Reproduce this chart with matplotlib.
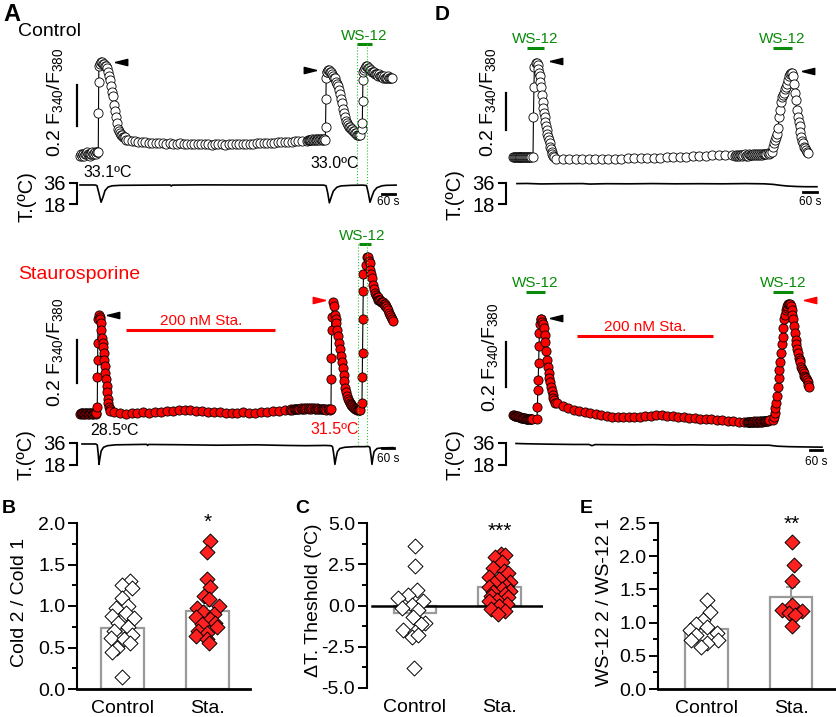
import numpy as np
import matplotlib
matplotlib.use("Agg")
import matplotlib.pyplot as plt
from matplotlib.lines import Line2D
from matplotlib.ticker import MultipleLocator

W, H = 837, 717
plt.rcParams['font.family'] = ['Liberation Sans', 'DejaVu Sans']
plt.rcParams['mathtext.default'] = 'regular'
plt.rcParams['axes.unicode_minus'] = False

# ---- F340/F380 traces: (start s, step s, ratio values) ----
a_ctrl_segs = [
    (0, 4, [0.02, 0.03, 0.02, 0.03, 0.03, 0.02, 0.03, 0.03, 0.04, 0.03, 0.03, 0.02, 0.03, 0.03,
            0.04, 0.03, 0.03, 0.04, 0.03, 0.04, 0.04]),
    (84, 1, [0.04, 0.23, 0.38, 0.46]),
    (92, 4.6, [0.47, 0.48, 0.48, 0.47, 0.47, 0.46, 0.46, 0.45, 0.43, 0.41, 0.39, 0.36, 0.33, 0.31,
               0.27, 0.24, 0.21, 0.18, 0.15, 0.14, 0.13, 0.12, 0.12, 0.11, 0.11, 0.11, 0.10]),
    (221, 16, [0.100, 0.095, 0.092, 0.090, 0.088, 0.086, 0.085, 0.084, 0.082, 0.083,
               0.081, 0.080, 0.082, 0.080, 0.079, 0.081, 0.078, 0.080, 0.077, 0.079,
               0.078, 0.076, 0.078, 0.077, 0.075, 0.078, 0.076, 0.077, 0.075, 0.077,
               0.076, 0.078, 0.077, 0.079, 0.078, 0.080, 0.079, 0.081, 0.082, 0.083,
               0.082, 0.085, 0.084, 0.086, 0.087, 0.089, 0.088, 0.090, 0.092, 0.093, 0.095]),
    (1044, 4, [0.095, 0.098, 0.096, 0.100, 0.097, 0.099, 0.101, 0.098, 0.100, 0.102, 0.099,
               0.101, 0.100, 0.103, 0.100, 0.102, 0.101, 0.099, 0.102, 0.100, 0.101]),
    (1128, 1.5, [0.10, 0.16, 0.30, 0.40, 0.43]),
    (1136, 4.6, [0.43, 0.44, 0.44, 0.43, 0.43, 0.42, 0.41, 0.40, 0.40, 0.38, 0.37, 0.36, 0.34, 0.32,
                 0.30, 0.28, 0.25, 0.23, 0.21, 0.19, 0.18, 0.17, 0.16, 0.16, 0.15, 0.15, 0.14, 0.14,
                 0.13, 0.13, 0.12, 0.12, 0.12, 0.12]),
    (1297, 1.5, [0.15, 0.18, 0.29, 0.39, 0.43]),
    (1306, 4.6, [0.44, 0.45, 0.46, 0.46, 0.45, 0.45, 0.44, 0.44, 0.43, 0.43, 0.43, 0.42, 0.42, 0.42,
                 0.41, 0.42, 0.41, 0.41, 0.41, 0.40, 0.41, 0.40, 0.40, 0.40, 0.41, 0.40, 0.40, 0.40, 0.40]),
]

a_sta_segs = [
    (0, 4, [0.030, 0.032, 0.028, 0.031, 0.033, 0.029, 0.031, 0.030, 0.034, 0.031, 0.029,
            0.032, 0.030, 0.033, 0.031, 0.030, 0.032, 0.029, 0.031, 0.033, 0.030, 0.032]),
    (88, 1, [0.06, 0.20, 0.28, 0.36, 0.47]),
    (97, 3, [0.49, 0.48, 0.47, 0.45, 0.42, 0.38, 0.36, 0.34, 0.31, 0.28, 0.25, 0.22, 0.19, 0.16,
             0.13, 0.10, 0.08, 0.06, 0.05, 0.04]),
    (173, 30, [0.035, 0.032, 0.030, 0.034, 0.031, 0.035, 0.034, 0.038, 0.036, 0.040,
               0.044, 0.046, 0.048, 0.047, 0.044, 0.041, 0.039, 0.036, 0.035, 0.034,
               0.032, 0.034, 0.035, 0.031, 0.034, 0.036, 0.038, 0.040, 0.043, 0.046]),
    (1071, 6, [0.047, 0.050, 0.048, 0.052, 0.049, 0.051, 0.053, 0.050, 0.052, 0.054, 0.051, 0.053,
               0.055, 0.052, 0.054, 0.056, 0.053, 0.055, 0.052, 0.054, 0.056, 0.053, 0.051, 0.054,
               0.052, 0.050, 0.053, 0.051, 0.049, 0.052, 0.050, 0.048, 0.051, 0.049, 0.047]),
    (1280, 1, [0.05, 0.19, 0.29, 0.42, 0.48]),
    (1290, 4.5, [0.55, 0.53, 0.49, 0.47, 0.45, 0.42, 0.39, 0.36, 0.33, 0.30, 0.27, 0.24, 0.21, 0.18,
                 0.15, 0.13, 0.11, 0.10, 0.09, 0.08, 0.075, 0.07, 0.065, 0.06, 0.055, 0.05, 0.05,
                 0.048, 0.047, 0.046, 0.046, 0.047]),
    (1438, 1.5, [0.08, 0.20, 0.31, 0.47, 0.60, 0.68]),
    (1459, 4.5, [0.72, 0.76, 0.76, 0.74, 0.73, 0.70, 0.68, 0.66, 0.63, 0.61, 0.59, 0.58, 0.57, 0.57,
                 0.56, 0.56, 0.56, 0.55, 0.55, 0.55, 0.54, 0.54, 0.53, 0.53, 0.52, 0.51, 0.50, 0.49,
                 0.48, 0.47, 0.46]),
]

d_ctrl_segs = [
    (0, 4, [0.042, 0.044, 0.041, 0.043, 0.045, 0.042, 0.044, 0.043, 0.041, 0.044,
            0.042, 0.043, 0.045, 0.042, 0.044, 0.043, 0.041, 0.043, 0.042, 0.044]),
    (86, 2, [0.043, 0.26, 0.42, 0.53]),
    (100, 3, [0.55, 0.55, 0.54, 0.52, 0.50, 0.48, 0.45, 0.42, 0.38, 0.34, 0.31, 0.28, 0.26, 0.23,
              0.21, 0.19, 0.17, 0.15, 0.135, 0.12, 0.10, 0.085, 0.07, 0.06, 0.05, 0.045]),
    (185, 28, [0.035, 0.033, 0.032, 0.032, 0.030, 0.030, 0.032, 0.032, 0.033, 0.035,
               0.035, 0.037, 0.037, 0.038, 0.040, 0.040, 0.040, 0.042, 0.042, 0.045,
               0.045, 0.048, 0.050, 0.050, 0.052, 0.052, 0.055, 0.055]),
    (955, 4.5, [0.050, 0.053, 0.048, 0.055, 0.051, 0.056, 0.052, 0.049, 0.054, 0.057, 0.051, 0.055,
                0.050, 0.058, 0.053, 0.056, 0.052, 0.059, 0.054, 0.057, 0.053, 0.060, 0.055, 0.058,
                0.054, 0.061, 0.056, 0.059, 0.057, 0.062, 0.058, 0.063, 0.060, 0.065]),
    (1114, 4.3, [0.07, 0.10, 0.12, 0.135, 0.15, 0.17, 0.20, 0.26, 0.30, 0.34, 0.37, 0.38, 0.39, 0.41,
                 0.42, 0.44, 0.46, 0.48, 0.49, 0.50, 0.50]),
    (1204, 4, [0.48, 0.44, 0.39, 0.35, 0.30, 0.26, 0.23, 0.21, 0.18, 0.15, 0.13, 0.12, 0.10, 0.09,
               0.08, 0.07, 0.065]),
]

d_sta_segs = [
    (0, 4, [0.045, 0.044, 0.042, 0.041, 0.040, 0.038, 0.038, 0.036, 0.035, 0.034, 0.033, 0.032,
            0.031, 0.030, 0.030, 0.029, 0.028, 0.028, 0.027, 0.027, 0.026, 0.026, 0.025, 0.025, 0.026]),
    (120, 2, [0.027, 0.08, 0.155, 0.20, 0.275, 0.35, 0.41, 0.45]),
    (138, 4, [0.47, 0.47, 0.46, 0.45, 0.43, 0.40, 0.37, 0.33, 0.29, 0.26, 0.23, 0.21, 0.19, 0.17,
              0.15, 0.135, 0.12, 0.11, 0.10]),
    (220, 27.5, [0.098, 0.085, 0.075, 0.068, 0.062, 0.057, 0.052, 0.048, 0.044, 0.040, 0.037, 0.035,
                 0.034, 0.034, 0.035, 0.037, 0.040, 0.042, 0.044, 0.043, 0.041, 0.038, 0.036, 0.034,
                 0.032, 0.030, 0.028, 0.027, 0.025, 0.023, 0.021, 0.019, 0.017, 0.015, 0.014]),
    (1170, 4, [0.014, 0.013, 0.015, 0.012, 0.014, 0.013, 0.015, 0.012, 0.014, 0.016, 0.013, 0.015,
               0.014, 0.016, 0.013, 0.015, 0.017, 0.014, 0.016, 0.015, 0.017, 0.016, 0.018, 0.017,
               0.019, 0.018, 0.020, 0.021, 0.022]),
    (1300, 4, [0.022, 0.035, 0.053, 0.075, 0.098, 0.13, 0.17, 0.21, 0.245, 0.28, 0.32, 0.36, 0.39,
               0.43, 0.47, 0.49, 0.51, 0.52, 0.53, 0.54, 0.54]),
    (1385, 4, [0.54, 0.53, 0.51, 0.49, 0.47, 0.44, 0.41, 0.38, 0.36, 0.34, 0.32, 0.30, 0.29, 0.28,
               0.26, 0.25, 0.24, 0.23, 0.22, 0.215, 0.21, 0.20, 0.19, 0.18, 0.17]),
]

# ---- bath temperature (s, degC) ----
a_ctrl_temp_t = [0, 69, 78, 88, 97, 106, 115, 129, 148, 185, 323, 415, 420, 425, 554, 785, 1015, 1121,
                 1132, 1140, 1147, 1155, 1165, 1181, 1200, 1246, 1301, 1318, 1326, 1334, 1342, 1352,
                 1366, 1389, 1408, 1454]
a_ctrl_temp = [34.3, 34.3, 33.8, 26.5, 19.5, 24.0, 29.5, 32.5, 33.6, 34.0, 34.2, 34.3, 33.4, 34.2,
               34.4, 34.3, 34.3, 34.2, 33.6, 27.0, 19.0, 23.5, 29.0, 32.3, 33.5, 34.0, 34.2, 33.8,
               27.5, 19.5, 24.0, 29.0, 32.0, 33.6, 34.0, 34.2]
a_sta_temp_t = [10, 80, 88, 93, 97, 102, 108, 120, 140, 180, 300, 340, 345, 350, 500, 700, 900, 1050,
                1150, 1250, 1280, 1288, 1294, 1300, 1306, 1313, 1325, 1350, 1400, 1450, 1470, 1478,
                1484, 1489, 1494, 1500, 1515, 1540, 1596]
a_sta_temp = [35.2, 35.2, 34.5, 27, 18.5, 24, 29.5, 32.5, 33.8, 34.5, 34.8, 34.9, 34.0, 34.8, 34.6,
              34.2, 34.5, 34.0, 33.8, 34.0, 33.8, 33.0, 27, 18.5, 24, 29, 31.5, 32.5, 33.0, 33.0,
              33.2, 32.5, 26, 18.5, 24, 29, 31.5, 32, 32.2]
d_ctrl_temp_t = [17, 60, 120, 200, 300, 330, 400, 500, 600, 700, 800, 900, 1000, 1080, 1120, 1150,
                 1180, 1220, 1260, 1307]
d_ctrl_temp = [35.5, 35.6, 35.2, 35.4, 35.5, 35.1, 35.4, 35.3, 35.5, 35.3, 35.4, 35.3, 35.5, 35.3,
               34.8, 34.0, 33.4, 33.0, 32.8, 32.8]
d_sta_temp_t = [15, 60, 120, 200, 300, 380, 395, 410, 500, 600, 700, 800, 900, 1000, 1100, 1200,
                1280, 1320, 1380, 1450, 1545]
d_sta_temp = [35.6, 35.4, 35.2, 35.0, 34.8, 34.8, 33.8, 34.7, 34.6, 34.5, 34.6, 34.4, 34.5, 34.3,
              34.4, 34.2, 34.2, 33.4, 33.0, 32.8, 32.6]

# ---- summary data ----
groups = ['Control', 'Sta.']
b_means, b_sems = [0.74, 0.94], [0.07, 0.06]
b_ctrl = [1.30, 1.25, 1.22, 1.10, 1.00, 0.98, 0.92, 0.88, 0.85, 0.80, 0.75, 0.70, 0.65, 0.62,
          0.60, 0.55, 0.50, 0.45, 0.14]
b_ctrl_dx = [0.09, -0.01, 0.11, 0.0, 0.07, -0.08, 0.04, -0.12, 0.13, -0.05, 0.06, -0.10, 0.11,
             -0.13, 0.02, 0.09, -0.07, -0.12, -0.01]
b_sta = [1.78, 1.65, 1.32, 1.23, 1.12, 1.08, 1.00, 0.97, 0.93, 0.90, 0.87, 0.84, 0.80, 0.78,
         0.75, 0.70, 0.67, 0.64, 0.60, 0.56]
b_sta_dx = [0.03, -0.01, -0.01, 0.03, -0.04, 0.02, 0.13, -0.12, -0.05, 0.08, -0.14, 0.03, 0.09,
            -0.07, 0.11, -0.11, -0.01, -0.13, 0.0, 0.02]

c_means, c_sems = [-0.45, 1.1], [0.35, 0.2]
c_ctrl = [3.6, 2.4, 0.95, 0.65, 0.45, 0.3, 0.05, -0.15, -0.25, -0.7, -1.05, -1.1, -1.5, -1.6,
          -1.9, -1.8, -3.8]
c_ctrl_dx = [0.0, 0.0, 0.02, -0.08, -0.2, 0.1, -0.04, -0.15, 0.04, -0.02, 0.12, 0.07, -0.14, 0.0,
             -0.04, 0.03, -0.01]
c_sta = [3.15, 3.05, 2.95, 2.65, 2.3, 2.1, 1.95, 1.75, 1.6, 1.45, 1.35, 1.2, 1.1, 1.0, 0.9, 0.8,
         0.7, 0.6, 0.5, 0.35, 0.25, 0.1, 0.0, -0.2, -0.35, -0.5]
c_sta_dx = [0.02, 0.07, -0.05, 0.03, -0.08, 0.05, 0.1, -0.12, 0.0, 0.12, -0.06, 0.08, -0.13, 0.03,
            0.13, -0.08, 0.06, -0.1, 0.1, -0.03, -0.13, 0.09, 0.0, -0.1, 0.06, -0.02]

e_means, e_sems = [0.91, 1.39], [0.05, 0.15]
e_ctrl = [1.34, 1.16, 1.04, 0.98, 0.94, 0.89, 0.84, 0.81, 0.74, 0.74, 0.69, 0.64]
e_ctrl_dx = [0.01, 0.04, -0.04, -0.12, 0.0, -0.2, 0.12, -0.12, -0.18, 0.14, 0.0, -0.06]
e_sta = [2.22, 1.87, 1.62, 1.27, 1.19, 1.17, 1.14, 1.12, 0.95]
e_sta_dx = [0.01, 0.03, 0.01, 0.01, -0.11, 0.13, -0.03, 0.05, 0.01]

RED = '#ff0000'
GREEN = '#0a8a0a'
GRAY = '#9a9a9a'

fig = plt.figure(figsize=(W / 100, H / 100), dpi=100)


def box(l, t, r, b):
    return [l / W, 1 - b / H, (r - l) / W, (b - t) / H]


def build(segs):
    t, r = [], []
    for t0, dt, vals in segs:
        t.extend(t0 + dt * np.arange(len(vals)))
        r.extend(vals)
    return np.array(t), np.array(r)


def ftext(x, y, s, **kw):
    fig.text(x / W, 1 - y / H, s, **kw)


def fline(xs, ys, **kw):
    fig.add_artist(Line2D([x / W for x in xs], [1 - y / H for y in ys],
                          transform=fig.transFigure, **kw))


LEFT = [(-1, 0), (1, 0.5), (1, -0.5), (-1, 0)]
RIGHT = [(1, 0), (-1, 0.5), (-1, -0.5), (1, 0)]


def arrowhead(x, y, verts, color='black'):
    fline([x], [y], marker=verts, ms=9, mfc=color, mec=color, ls='none')


def trace_ax(l, t, r, b, x0, spp, y0, ppu, segs, face):
    ax = fig.add_axes(box(l, t, r, b))
    ax.set_xlim((l - x0) * spp, (r - x0) * spp)
    ax.set_ylim((y0 - b) / ppu, (y0 - t) / ppu)
    ax.axis('off')
    tt, rr = build(segs)
    ax.plot(tt, rr, color='black', lw=0.8, zorder=1, clip_on=False)
    ax.plot(tt, rr, ls='none', marker='o', ms=6.6, mfc=face, mec='black', mew=0.6,
            zorder=2, clip_on=False)
    return ax


def temp_ax(l, t, r, b, x0, spp, y36, ppd, tt, temp, bar_t, bar_T, txt_T):
    ax = fig.add_axes(box(l, t, r, b))
    ax.set_facecolor('none')
    ax.set_xlim((l - x0) * spp, (r - x0) * spp)
    ax.set_ylim(36 - (b - y36) / ppd, 36 - (t - y36) / ppd)
    for s in ['top', 'right', 'bottom']:
        ax.spines[s].set_visible(False)
    ax.spines['left'].set_bounds(18, 36)
    ax.spines['left'].set_linewidth(1.5)
    ax.set_xticks([])
    ax.set_yticks([18, 36])
    ax.tick_params(axis='y', direction='out', length=6, width=1.5, labelsize=14.5, pad=2)
    ax.plot(tt, temp, color='black', lw=1.2, clip_on=False)
    ax.plot([bar_t, bar_t + 60], [bar_T, bar_T], color='black', lw=2, clip_on=False)
    ax.text(bar_t + 30, txt_T, '60 s', fontsize=8.5, ha='center', va='center')
    return ax


# ---------------- panel A ----------------
ax = trace_ax(70, 40, 402, 165, 80, 4.6, 160, 205, a_ctrl_segs, 'white')
ax.plot([-13.8, -13.8], [0.166, 0.366], color='black', lw=1.6, clip_on=False)
temp_ax(77, 170, 402, 215, 80, 4.6, 183, 21 / 18, a_ctrl_temp_t, a_ctrl_temp, 1389, 26.6, 19.7)

ax = trace_ax(70, 245, 402, 425, 80, 5.1, 420, 215, a_sta_segs, RED)
ax.plot([-15.3, -15.3], [0.172, 0.372], color='black', lw=1.6, clip_on=False)
temp_ax(77, 430, 402, 475, 80, 5.1, 443, 22 / 18, a_sta_temp_t, a_sta_temp, 1540, 31.9, 22.9)

# ---------------- panel D ----------------
ax = trace_ax(500, 40, 830, 165, 513, 4.3, 165, 185, d_ctrl_segs, 'white')
ax.plot([-30.1, -30.1], [0.189, 0.389], color='black', lw=1.6, clip_on=False)
temp_ax(506, 170, 830, 215, 513, 4.3, 183, 21 / 18, d_ctrl_temp_t, d_ctrl_temp, 1247, 28.3, 19.7)

ax = trace_ax(500, 280, 830, 430, 513, 5.0, 425, 225, d_sta_segs, RED)
ax.plot([-35, -35], [0.169, 0.369], color='black', lw=1.6, clip_on=False)
temp_ax(506, 430, 830, 475, 513, 5.0, 443, 22 / 18, d_sta_temp_t, d_sta_temp, 1485, 30.3, 20.5)

# trace annotations
ylab = '0.2 F$_{340}$/F$_{380}$'
for x, y in [(55, 102), (55, 352), (488, 102), (490, 357)]:
    ftext(x, y, ylab, rotation=90, fontsize=14, ha='center', va='center')
for x, y in [(27, 197), (26, 455), (455, 195), (455, 455)]:
    ftext(x, y, 'T.(ºC)', rotation=90, fontsize=14.5, ha='center', va='center')

ftext(3, 21, 'A', fontsize=17, fontweight='bold')
ftext(435, 20, 'D', fontsize=15, fontweight='bold')
ftext(18, 36, 'Control', fontsize=14)
ftext(18, 279, 'Staurosporine', fontsize=14, color=RED)

ftext(83, 177, '33.1ºC', fontsize=11.5)
ftext(310, 168, '33.0ºC', fontsize=11.5)
ftext(90, 435, '28.5ºC', fontsize=11.5)
ftext(310, 434, '31.5ºC', fontsize=11.5, color=RED)

for cx, base, bx0, bx1, by in [(364, 40, 357, 372, 44), (362, 240, 359, 371, 244),
                               (535, 43, 527, 544, 48), (782, 43, 773, 792, 48),
                               (535, 287, 526, 545, 292), (783, 287, 773, 793, 292)]:
    ftext(cx, base, 'WS-12', fontsize=11, color=GREEN, ha='center')
    fline([bx0, bx1], [by, by], color=GREEN, lw=2.2, solid_capstyle='butt')

for x, y0, y1 in [(357, 44, 185), (367, 44, 185), (358, 244, 445), (367, 244, 445)]:
    fline([x, x], [y0, y1], color='#33bb33', lw=0.8, ls=':')

ftext(201, 325, '200 nM Sta.', fontsize=11, color=RED, ha='center')
fline([126, 275], [330, 330], color=RED, lw=2.2, solid_capstyle='butt')
ftext(645, 331, '200 nM Sta.', fontsize=11, color=RED, ha='center')
fline([577, 713], [336, 336], color=RED, lw=2.2, solid_capstyle='butt')

arrowhead(121, 62, LEFT)
arrowhead(310, 70, RIGHT)
arrowhead(113, 315, LEFT)
arrowhead(319, 300, RIGHT, RED)
arrowhead(556, 61, LEFT)
arrowhead(808, 71, LEFT)
arrowhead(556, 318, LEFT)
arrowhead(810, 300, LEFT, RED)


# ---------------- panels B, C, E ----------------
def bar_panel(l, t, r, b, xlim, ylim, yticks, minor, means, sems, ctrl, ctrl_dx, sta, sta_dx,
              zero_line=False):
    ax = fig.add_axes(box(l, t, r, b))
    ax.set_xlim(xlim)
    ax.set_ylim(ylim)
    ax.bar([0, 1], means, width=0.5, color='white', edgecolor=GRAY, lw=1.6, zorder=1)
    ax.errorbar([0, 1], means, yerr=sems, fmt='none', ecolor=GRAY, elinewidth=1.4,
                capsize=3.5, capthick=1.4, zorder=2)
    ax.scatter(np.array(ctrl_dx), ctrl, marker='D', s=58, facecolor='white',
               edgecolor='black', lw=0.7, zorder=3, clip_on=False)
    ax.scatter(1 + np.array(sta_dx), sta, marker='D', s=58, facecolor='#ff2020',
               edgecolor='black', lw=0.7, zorder=3, clip_on=False)
    for s in ['top', 'right']:
        ax.spines[s].set_visible(False)
    ax.spines['left'].set_linewidth(1.5)
    if zero_line:
        ax.spines['bottom'].set_visible(False)
        ax.axhline(0, xmin=5 / (r - l), color='black', lw=1.8, zorder=2.5)
    else:
        ax.spines['bottom'].set_linewidth(2)
    ax.set_yticks(yticks)
    ax.set_yticklabels([f'{v:.1f}' for v in yticks])
    ax.yaxis.set_minor_locator(MultipleLocator(minor))
    ax.tick_params(axis='y', which='major', length=6.5, width=1.4, labelsize=14, pad=2)
    ax.tick_params(axis='y', which='minor', length=3.5, width=1.4)
    ax.set_xticks([0, 1])
    ax.set_xticklabels(groups)
    ax.tick_params(axis='x', length=0, labelsize=14, pad=8)
    return ax


bar_panel(77, 523, 250, 689, (-0.535, 1.5), (0, 2.0), [0, 0.5, 1.0, 1.5, 2.0], 0.25,
          b_means, b_sems, b_ctrl, b_ctrl_dx, b_sta, b_sta_dx)
bar_panel(367, 523, 543, 688, (-0.568, 1.515), (-5, 5), [-5, -2.5, 0, 2.5, 5], 1.25,
          c_means, c_sems, c_ctrl, c_ctrl_dx, c_sta, c_sta_dx, zero_line=True)
bar_panel(658, 523, 835, 689, (-0.574, 1.52), (0, 2.5), [0, 0.5, 1.0, 1.5, 2.0, 2.5], 0.25,
          e_means, e_sems, e_ctrl, e_ctrl_dx, e_sta, e_sta_dx)

ftext(20, 602, 'Cold 2 / Cold 1', rotation=90, fontsize=14, ha='center', va='center')
ftext(314, 600, 'ΔT. Theshold (ºC)', rotation=90, fontsize=14, ha='center', va='center')
ftext(605, 602, 'WS-12 2 / WS-12 1', rotation=90, fontsize=14, ha='center', va='center')

ftext(2, 513, 'B', fontsize=14, fontweight='bold')
ftext(295, 513, 'C', fontsize=14, fontweight='bold')
ftext(580, 513, 'E', fontsize=14, fontweight='bold')

ftext(208, 522, '*', fontsize=15, ha='center', va='center')
ftext(500, 531, '***', fontsize=15, ha='center', va='center')
ftext(792, 524, '**', fontsize=15, ha='center', va='center')

fig.savefig('out.png', dpi=100, facecolor='white')
